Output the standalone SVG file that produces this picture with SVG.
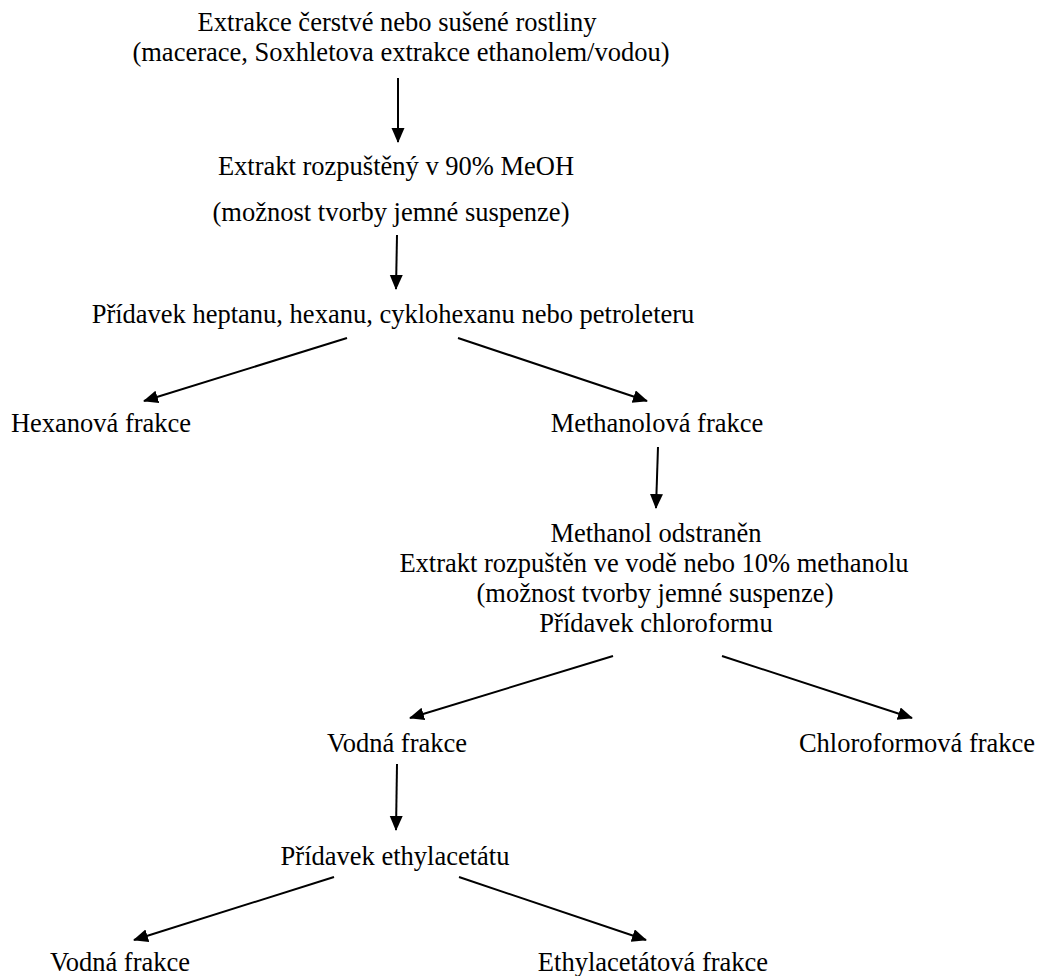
<svg xmlns="http://www.w3.org/2000/svg" width="1041" height="976" viewBox="0 0 1041 976">
<style>
text{font-family:"Liberation Serif","Times New Roman",serif;font-size:26.5px;fill:#000;text-anchor:middle}
.c{stroke:#000;stroke-width:2;fill:none;marker-end:url(#ah)}
</style>
<defs>
<marker id="ah" markerUnits="userSpaceOnUse" markerWidth="16" markerHeight="14" refX="14" refY="6.5" orient="auto">
<path d="M0,0 L15,6.5 L0,13 z" fill="#000"/>
</marker>
</defs>
<rect width="1041" height="976" fill="#fff"/>
<g id="n1"><text x="397" y="31">Extrakce čerstvé nebo sušené rostliny</text><text x="401" y="61">(macerace, Soxhletova extrakce ethanolem/vodou)</text></g>
<g id="n2"><text x="396" y="175">Extrakt rozpuštěný v 90% MeOH</text><text x="391" y="221">(možnost tvorby jemné suspenze)</text></g>
<g id="n3"><text x="393" y="323">Přídavek heptanu, hexanu, cyklohexanu nebo petroleteru</text></g>
<g id="n4"><text x="101" y="432">Hexanová frakce</text></g>
<g id="n5"><text x="657" y="432">Methanolová frakce</text></g>
<g id="n6"><text x="656" y="542">Methanol odstraněn</text><text x="654" y="572">Extrakt rozpuštěn ve vodě nebo 10% methanolu</text><text x="655" y="602">(možnost tvorby jemné suspenze)</text><text x="656" y="632">Přídavek chloroformu</text></g>
<g id="n7"><text x="397" y="752">Vodná frakce</text></g>
<g id="n8"><text x="917" y="752">Chloroformová frakce</text></g>
<g id="n9"><text x="395" y="865">Přídavek ethylacetátu</text></g>
<g id="n10"><text x="120" y="971">Vodná frakce</text></g>
<g id="n11"><text x="653" y="971">Ethylacetátová frakce</text></g>
<g id="connectors">
<line class="c" x1="398" y1="78" x2="398" y2="142"/>
<line class="c" x1="397" y1="235" x2="396" y2="289"/>
<line class="c" x1="347" y1="338" x2="144" y2="401"/>
<line class="c" x1="458" y1="338" x2="647" y2="401"/>
<line class="c" x1="658" y1="447" x2="656" y2="508"/>
<line class="c" x1="613" y1="656" x2="410" y2="718"/>
<line class="c" x1="722" y1="656" x2="912" y2="718"/>
<line class="c" x1="397" y1="764" x2="396" y2="830"/>
<line class="c" x1="334" y1="877" x2="134" y2="940"/>
<line class="c" x1="459" y1="877" x2="646" y2="940"/>
</g>
</svg>
